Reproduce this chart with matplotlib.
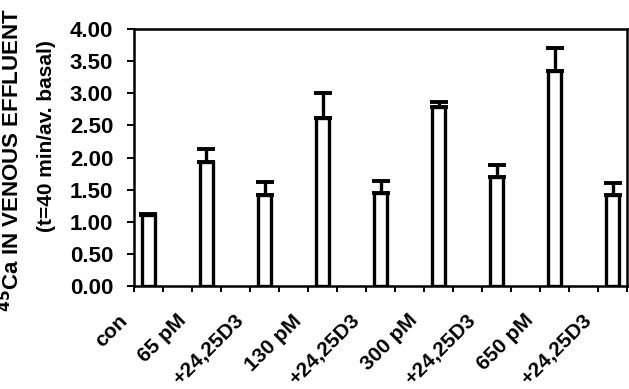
import matplotlib
matplotlib.use("Agg")
import matplotlib.pyplot as plt
import matplotlib.transforms as mtransforms
import numpy as np

labels = ["con", "65 pM", "+24,25D3", "130 pM", "+24,25D3",
          "300 pM", "+24,25D3", "650 pM", "+24,25D3"]
values = [1.10, 1.93, 1.42, 2.62, 1.45, 2.79, 1.69, 3.35, 1.42]
errors = [0.02, 0.21, 0.20, 0.38, 0.18, 0.07, 0.20, 0.36, 0.19]
yticks = [0.0, 0.5, 1.0, 1.5, 2.0, 2.5, 3.0, 3.5, 4.0]

plt.rcParams["font.family"] = ["Liberation Sans", "DejaVu Sans"]
plt.rcParams["font.weight"] = "bold"

fig = plt.figure(figsize=(6.29, 3.89), dpi=100)
ax = fig.add_axes([0.213, 0.265, 0.784, 0.66])

x = np.arange(len(labels)) * 2
ax.bar(x, values, width=0.45, color="white", edgecolor="black", linewidth=2.4, zorder=2)
ax.errorbar(x, values, yerr=[np.zeros(len(errors)), errors], fmt="none",
            ecolor="black", elinewidth=2.4, capsize=6.5, capthick=2.8, zorder=1)

ax.set_xlim(-0.5, 16.5)
ax.set_ylim(0, 4.0)
ax.set_yticks(yticks)
ax.set_yticklabels([f"{v:.2f}" for v in yticks], fontsize=16, fontweight="bold")

ax.set_xticks(x)
ax.set_xticklabels(labels, rotation=45, ha="right", fontsize=15, fontweight="bold")
ax.set_xticks(np.arange(-0.5, 17, 1.0), minor=True)
ax.tick_params(axis="x", which="major", length=0, pad=18)
ax.tick_params(axis="x", which="minor", length=4, width=1.4, direction="out")
ax.tick_params(axis="y", length=5, width=1.4, direction="out", pad=10)
shift = mtransforms.ScaledTranslation(-17 / 100, 0, fig.dpi_scale_trans)
for t in ax.get_xticklabels():
    t.set_transform(t.get_transform() + shift)

for s in ax.spines.values():
    s.set_linewidth(1.8)

fig.text(12 / 629, 1 - 160 / 389, "$\\mathbf{^{45}}$Ca IN VENOUS EFFLUENT",
         rotation=90, ha="center", va="center", fontsize=16, fontweight="bold")
fig.text(47 / 629, 1 - 136 / 389, "(t=40 min/av. basal)",
         rotation=90, ha="center", va="center", fontsize=15, fontweight="bold")

fig.savefig("out.png", dpi=100)
